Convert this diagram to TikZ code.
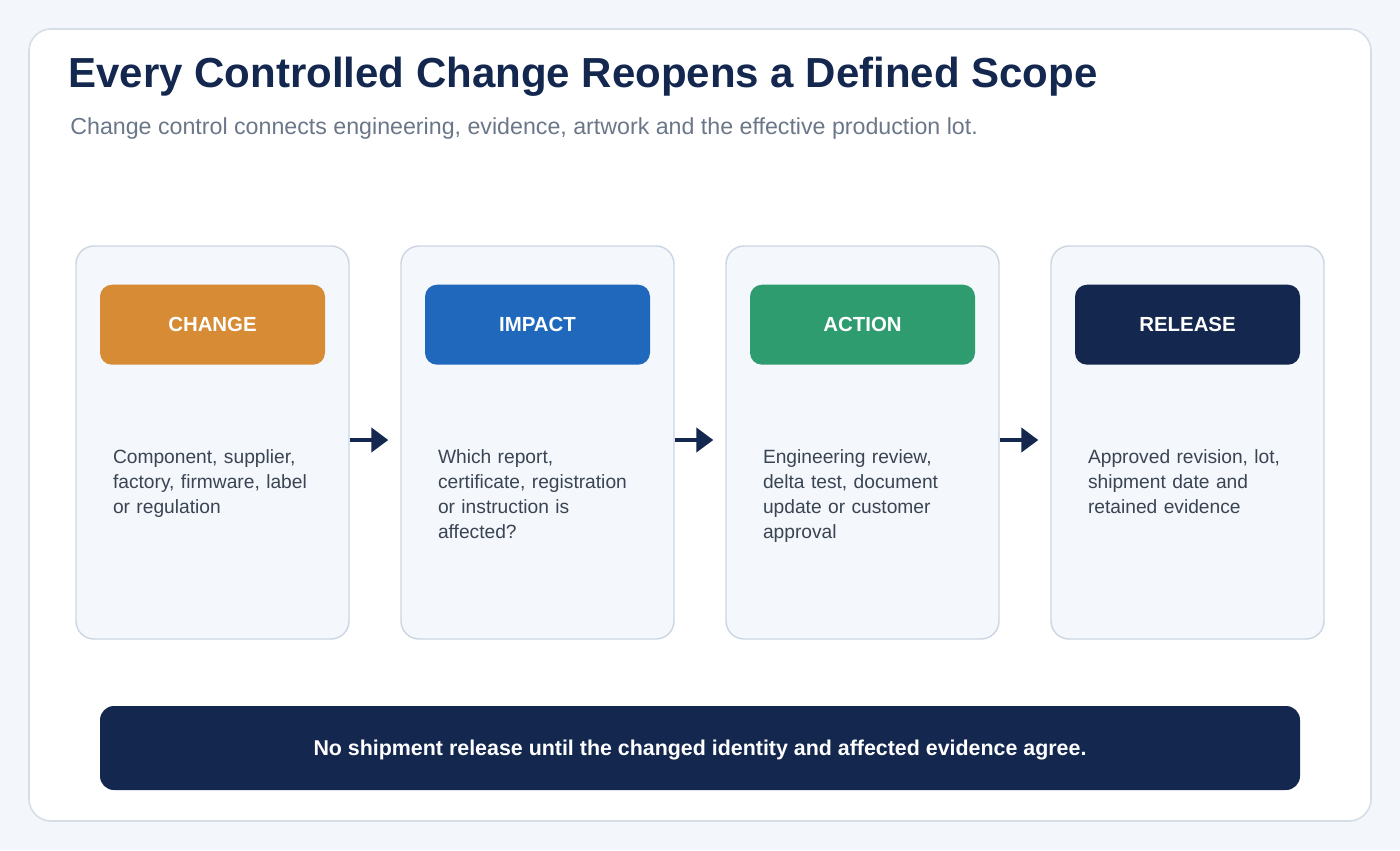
\documentclass[tikz,border=0pt]{standalone}
\usepackage{fontspec}
\setmainfont{Liberation Sans}
\usetikzlibrary{arrows.meta,positioning}

\definecolor{pagebg}{HTML}{F3F6FA}
\definecolor{cardline}{HTML}{D6DEE8}
\definecolor{navy}{HTML}{13274F}
\definecolor{subgray}{HTML}{6B7789}
\definecolor{panelfill}{HTML}{F4F7FB}
\definecolor{panelline}{HTML}{CBD6E2}
\definecolor{bodytext}{HTML}{3A4453}
\definecolor{chgorange}{HTML}{D68B34}
\definecolor{impblue}{HTML}{1F68BC}
\definecolor{actgreen}{HTML}{2E9C6E}

\tikzset{
  panel/.style={draw=panelline, fill=panelfill, line width=0.7pt, rounded corners=9pt,
    minimum width=136.5pt, minimum height=196.5pt, inner sep=0pt},
  head/.style={rounded corners=6pt, minimum width=112.5pt, minimum height=40pt, inner sep=0pt,
    text=white, font=\fontsize{10.2}{12}\selectfont\bfseries},
  body/.style={anchor=north west, inner sep=0pt, text width=118pt, align=left,
    text=bodytext, font=\fontsize{9.6}{12.5}\selectfont},
  flow/.style={navy, line width=2.2pt, -{Triangle[length=8.5pt, width=12pt]}},
}

\begin{document}
\begin{tikzpicture}[x=0.5pt,y=-0.5pt]
\useasboundingbox (0,0) rectangle (1400,850);
\fill[pagebg] (0,0) rectangle (1400,850);
\filldraw[fill=white, draw=cardline, line width=0.8pt, rounded corners=11pt] (29,29) rectangle (1371,821);

% title block
\node[anchor=base west, inner sep=0pt, text=navy, font=\fontsize{21}{24}\selectfont\bfseries] (title) at (68,88)
  {Every Controlled Change Reopens a Defined Scope};
\node[anchor=base west, inner sep=0pt, text=subgray, font=\fontsize{11.6}{14}\selectfont] (subtitle) at (70,135)
  {Change control connects engineering, evidence, artwork and the effective production lot.};

% four stages
\node[panel] (p1) at (212.5,442.5) {};
\node[panel] (p2) at (537.5,442.5) {};
\node[panel] (p3) at (862.5,442.5) {};
\node[panel] (p4) at (1187.5,442.5) {};

\node[head, fill=chgorange, below=19.5pt of p1.north] (h1) {CHANGE};
\node[head, fill=impblue, below=19.5pt of p2.north] (h2) {IMPACT};
\node[head, fill=actgreen, below=19.5pt of p3.north] (h3) {ACTION};
\node[head, fill=navy, below=19.5pt of p4.north] (h4) {RELEASE};

\node[body] (b1) at ([xshift=6.5pt,yshift=-42pt]h1.south west)
  {Component, supplier,\\factory, firmware, label\\or regulation};
\node[body] (b2) at ([xshift=6.5pt,yshift=-42pt]h2.south west)
  {Which report,\\certificate, registration\\or instruction is\\affected?};
\node[body] (b3) at ([xshift=6.5pt,yshift=-42pt]h3.south west)
  {Engineering review,\\delta test, document\\update or customer\\approval};
\node[body] (b4) at ([xshift=6.5pt,yshift=-42pt]h4.south west)
  {Approved revision, lot,\\shipment date and\\retained evidence};

\draw[flow] ([yshift=1.25pt]p1.east) -- ([xshift=-6pt,yshift=1.25pt]p2.west);
\draw[flow] ([yshift=1.25pt]p2.east) -- ([xshift=-6pt,yshift=1.25pt]p3.west);
\draw[flow] ([yshift=1.25pt]p3.east) -- ([xshift=-6pt,yshift=1.25pt]p4.west);

% release rule
\node[fill=navy, rounded corners=7pt, minimum width=600pt, minimum height=42pt, inner sep=0pt,
  text height=7.7pt, text depth=0.5pt,
  text=white, font=\fontsize{10.7}{12}\selectfont\bfseries] (rule) at (700,748)
  {No shipment release until the changed identity and affected evidence agree.};
\end{tikzpicture}
\end{document}
